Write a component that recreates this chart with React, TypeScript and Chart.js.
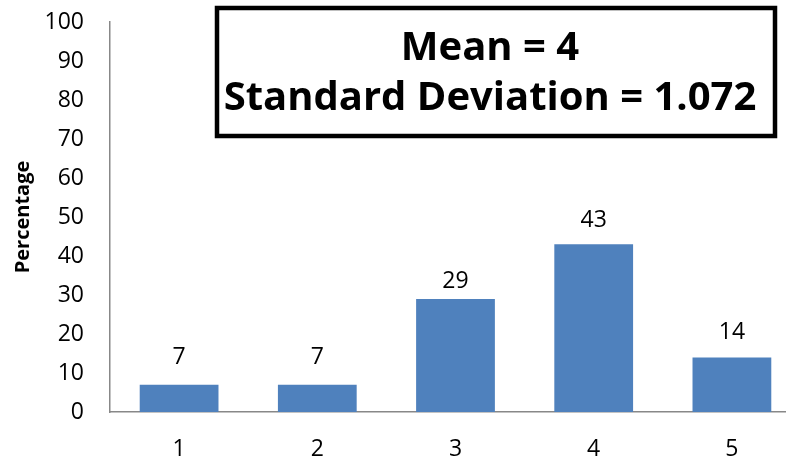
import React, { useEffect, useRef } from "react";
import { Chart, registerables } from "chart.js";

Chart.register(...registerables);

const categories = ["1", "2", "3", "4", "5"];
const percentages = [7, 7, 29, 43, 14];
const yTicks = [0, 10, 20, 30, 40, 50, 60, 70, 80, 90, 100];
const summaryLines = ["Mean = 4", "Standard Deviation = 1.072"];

// distance from each bar top to the centre of its value label
const labelGaps = [27, 27, 17, 24, 25];

const FONT = "'Open Sans', sans-serif";

const valueLabels = {
  id: "valueLabels",
  afterDatasetsDraw(chart: any) {
    const ctx = chart.ctx;
    const meta = chart.getDatasetMeta(0);
    ctx.save();
    ctx.font = `23px ${FONT}`;
    ctx.fillStyle = "#000";
    ctx.textAlign = "center";
    ctx.textBaseline = "middle";
    meta.data.forEach((bar: any, i: number) => {
      ctx.fillText(String(percentages[i]), bar.x, bar.y - labelGaps[i]);
    });
    ctx.restore();
  },
};

const summaryBox = {
  id: "summaryBox",
  afterDraw(chart: any) {
    const ctx = chart.ctx;
    const left = 217;
    const top = 8;
    const right = 775;
    const bottom = 136;
    ctx.save();
    ctx.fillStyle = "#fff";
    ctx.fillRect(left, top, right - left, bottom - top);
    ctx.lineWidth = 4.5;
    ctx.strokeStyle = "#000";
    ctx.strokeRect(left, top, right - left, bottom - top);
    ctx.fillStyle = "#000";
    ctx.textAlign = "center";
    ctx.textBaseline = "alphabetic";
    ctx.font = `bold 40px ${FONT}`;
    const cx = 490;
    ctx.fillText(summaryLines[0], cx, 60);
    ctx.fillText(summaryLines[1], cx, 110);
    ctx.restore();
  },
};

export default function App() {
  const canvasRef = useRef<HTMLCanvasElement | null>(null);

  useEffect(() => {
    if (!canvasRef.current) return;
    const chart = new Chart(canvasRef.current, {
      type: "bar",
      data: {
        labels: categories,
        datasets: [
          {
            data: percentages,
            backgroundColor: "#4F81BD",
            borderWidth: 0,
            barPercentage: 0.57,
            categoryPercentage: 1,
          },
        ],
      },
      options: {
        animation: false,
        responsive: false,
        devicePixelRatio: 1,
        layout: { padding: { top: 22, right: 0, bottom: 0, left: 0 } },
        plugins: {
          legend: { display: false },
          tooltip: { enabled: false },
        },
        scales: {
          x: {
            grid: { display: false, drawTicks: false },
            border: { color: "#888", width: 1.5 },
            ticks: {
              color: "#000",
              font: { family: FONT, size: 23 },
              padding: 24,
            },
            afterFit(scale: any) {
              scale.height = 48;
              scale.paddingLeft = 0;
              scale.paddingRight = 0;
            },
          },
          y: {
            min: 0,
            max: 100,
            afterBuildTicks(scale: any) {
              scale.ticks = yTicks.map((v) => ({ value: v }));
            },
            grid: { display: false, drawTicks: false },
            border: { color: "#888", width: 1.5 },
            ticks: {
              color: "#000",
              font: { family: FONT, size: 23 },
              padding: 26,
            },
            title: {
              display: true,
              text: "Percentage",
              color: "#000",
              font: { family: FONT, size: 20, weight: "bold" },
              padding: { top: 11, bottom: 0 },
            },
            afterFit(scale: any) {
              scale.width = 110;
              scale.paddingTop = 0;
              scale.paddingBottom = 0;
            },
          },
        },
      },
      plugins: [valueLabels, summaryBox],
    });
    return () => chart.destroy();
  }, []);

  return (
    <div
      style={{
        position: "fixed",
        left: 0,
        top: 0,
        width: 786,
        height: 460,
        overflow: "hidden",
        background: "#fff",
      }}
    >
      <canvas ref={canvasRef} width={801} height={460} style={{ display: "block" }} />
    </div>
  );
}
